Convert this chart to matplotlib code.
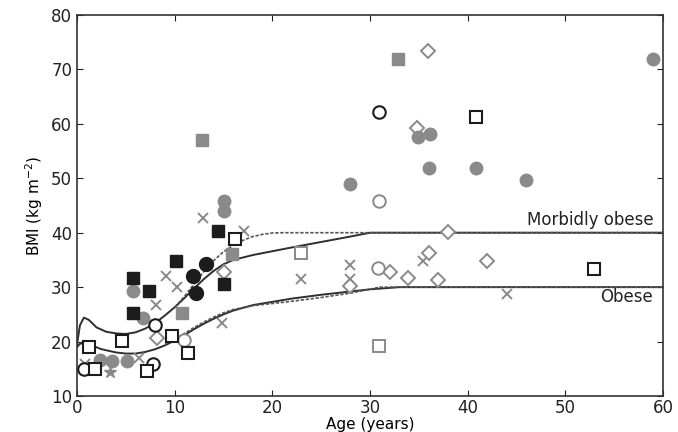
import matplotlib
matplotlib.use("Agg")
import matplotlib.pyplot as plt
import numpy as np

plt.rcParams['font.family'] = ['DejaVu Sans']

# ---- threshold curves ----
obese_solid_age = [0, 0.3, 0.8, 1.5, 2.5, 4, 5, 6, 7, 8, 9, 10, 11, 12, 13, 14, 15, 16, 17, 18, 20, 22, 25, 28, 30, 33, 60]
obese_solid_bmi = [19.0, 19.6, 19.8, 19.3, 18.6, 18.0, 17.8, 17.8, 18.1, 18.6, 19.3, 20.2, 21.2, 22.3, 23.3, 24.2, 25.0, 25.7, 26.2, 26.7, 27.3, 27.9, 28.6, 29.2, 29.6, 30.0, 30.0]
obese_dash_age = [9, 10, 11, 12, 13, 14, 15, 16, 18, 20, 22, 25, 28, 31, 60]
obese_dash_bmi = [19.5, 20.4, 21.5, 22.6, 23.6, 24.5, 25.3, 25.9, 26.6, 27.0, 27.4, 28.1, 28.9, 30.0, 30.0]

morbid_solid_age = [0, 0.3, 0.7, 1.2, 2, 3, 4, 5, 6, 7, 8, 9, 10, 11, 12, 13, 14, 15, 16, 18, 20, 22, 25, 28, 30, 60]
morbid_solid_bmi = [19.5, 23.0, 24.4, 24.0, 22.6, 21.8, 21.5, 21.4, 21.7, 22.4, 23.4, 24.8, 26.3, 28.0, 29.8, 31.5, 33.0, 34.2, 35.0, 35.9, 36.6, 37.3, 38.3, 39.3, 40.0, 40.0]
morbid_dash_age = [10, 11, 12, 13, 14, 15, 16, 17, 18, 19, 20, 21, 60]
morbid_dash_bmi = [26.3, 28.3, 30.6, 32.9, 34.9, 36.5, 37.7, 38.6, 39.3, 39.7, 39.95, 40.0, 40.0]

# ---- patient data by marker type ----
blk_sq_age = [5.7, 7.4, 10.1, 5.7, 14.4, 15.0]
blk_sq_bmi = [31.7, 29.3, 34.8, 25.2, 40.3, 30.6]

gry_sq_age = [10.8, 15.9, 12.8, 32.9]
gry_sq_bmi = [25.2, 36.1, 57.0, 71.9]

blk_ci_age = [13.2, 11.9, 12.2]
blk_ci_bmi = [34.3, 32.0, 28.9]

gry_ci_age = [15.0, 15.0, 5.7, 6.8, 27.9, 34.9, 36.1, 36.0, 40.9, 46.0, 59.0, 2.4, 3.6, 5.1]
gry_ci_bmi = [45.8, 44.0, 29.3, 24.4, 49.0, 57.6, 58.1, 51.9, 51.9, 49.7, 71.9, 16.6, 16.5, 16.4]

blk_osq_age = [1.2, 4.6, 11.4, 16.2, 40.9, 52.9, 1.8, 7.2, 9.7]
blk_osq_bmi = [19.0, 20.1, 17.9, 38.8, 61.3, 33.3, 15.0, 14.6, 21.0]

gry_osq_age = [22.9, 30.9]
gry_osq_bmi = [36.2, 19.2]

blk_oci_age = [30.9, 8.0, 0.7, 7.8]
blk_oci_bmi = [62.2, 23.0, 14.9, 15.9]

gry_oci_age = [30.9, 30.8, 11.0]
gry_oci_bmi = [45.8, 33.5, 20.3]

gry_dia_age = [35.9, 34.8, 38.0, 36.0, 42.0, 32.0, 33.9, 37.0, 27.9, 15.0, 8.2]
gry_dia_bmi = [73.4, 59.2, 40.1, 36.2, 34.8, 32.8, 31.6, 31.3, 30.2, 32.8, 20.7]

gry_x_age = [12.9, 17.1, 9.1, 10.2, 8.1, 14.8, 22.9, 27.9, 27.9, 35.4, 44.0, 0.8, 6.3]
gry_x_bmi = [42.7, 40.3, 32.0, 30.0, 26.7, 23.4, 31.5, 34.1, 31.5, 34.8, 28.7, 15.9, 17.0]

gry_star_age = [3.4]
gry_star_bmi = [14.4]

xticks = [0, 10, 20, 30, 40, 50, 60]
yticks = [10, 20, 30, 40, 50, 60, 70, 80]

BLK = '#1c1c1c'
GRY = '#8a8a8a'

fig = plt.figure(figsize=(6.78, 4.32), dpi=100)
ax = fig.add_axes([0.1136, 0.0833, 0.8643, 0.882])

lc = '#2e2e2e'
ax.plot(obese_solid_age, obese_solid_bmi, color=lc, lw=1.4, zorder=2)
ax.plot(morbid_solid_age, morbid_solid_bmi, color=lc, lw=1.4, zorder=2)
ax.plot(obese_dash_age, obese_dash_bmi, color='#555555', lw=1.2, ls=(0, (2, 1)), zorder=2)
ax.plot(morbid_dash_age, morbid_dash_bmi, color='#555555', lw=1.2, ls=(0, (2, 1)), zorder=2)

ms = 8.5
ax.plot(gry_x_age, gry_x_bmi, 'x', color=GRY, ms=7.5, mew=1.4, ls='none', zorder=3)
ax.plot(gry_star_age, gry_star_bmi, '*', color=GRY, ms=9, ls='none', zorder=3)
ax.plot(gry_dia_age, gry_dia_bmi, 'D', mfc='white', mec=GRY, ms=7.5, mew=1.4, ls='none', zorder=3)
ax.plot(gry_oci_age, gry_oci_bmi, 'o', mfc='white', mec=GRY, ms=ms + 0.5, mew=1.4, ls='none', zorder=3)
ax.plot(gry_osq_age, gry_osq_bmi, 's', mfc='white', mec=GRY, ms=ms, mew=1.4, ls='none', zorder=3)
ax.plot(gry_ci_age, gry_ci_bmi, 'o', color=GRY, ms=ms + 0.5, ls='none', zorder=4)
ax.plot(gry_sq_age, gry_sq_bmi, 's', color=GRY, ms=ms, ls='none', zorder=4)
ax.plot(blk_oci_age, blk_oci_bmi, 'o', mfc='white', mec=BLK, ms=ms + 0.5, mew=1.5, ls='none', zorder=4)
ax.plot(blk_osq_age, blk_osq_bmi, 's', mfc='white', mec=BLK, ms=ms, mew=1.5, ls='none', zorder=4)
ax.plot(blk_ci_age, blk_ci_bmi, 'o', color=BLK, ms=ms + 1.5, ls='none', zorder=5)
ax.plot(blk_sq_age, blk_sq_bmi, 's', color=BLK, ms=ms, ls='none', zorder=5)

ax.text(59, 42.3, 'Morbidly obese', ha='right', va='center', fontsize=12, color='#222222')
ax.text(59, 28.2, 'Obese', ha='right', va='center', fontsize=12, color='#222222')

ax.set_xlim(0, 60)
ax.set_ylim(10, 80)
ax.set_xticks(xticks)
ax.set_yticks(yticks)
ax.tick_params(direction='in', top=True, right=True, length=4, labelsize=12, colors='#222222')
ax.tick_params(axis='x', pad=2)
for s in ax.spines.values():
    s.set_color('#333333')
    s.set_linewidth(1.2)
ax.set_xlabel('Age (years)', fontsize=11, labelpad=0)
ax.set_ylabel('BMI (kg m$^{-2}$)', fontsize=11, labelpad=4)

fig.savefig('out.png', dpi=100)
